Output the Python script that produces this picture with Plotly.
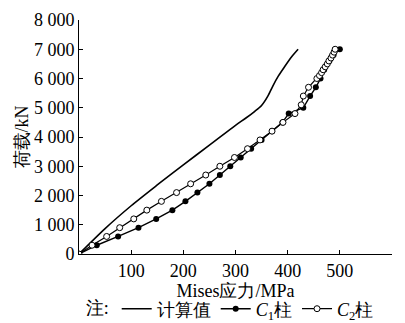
import plotly.graph_objects as go

# Calculated values (计算值)
calc_x = [0, 50, 100, 150, 200, 250, 300, 320, 337, 350, 362, 372, 382, 394, 408, 420]
calc_y = [0, 870, 1650, 2360, 3050, 3720, 4400, 4650, 4880, 5080, 5400, 5760, 6080, 6400, 6750, 7000]

# C1 column (filled markers)
c1_x = [0, 34, 75, 114, 148, 179, 204, 227, 250, 270, 290, 310, 330, 350, 370, 390, 402, 430, 443, 454, 463, 470, 480, 488, 500]
c1_y = [0, 300, 600, 900, 1200, 1500, 1800, 2100, 2400, 2700, 3000, 3300, 3600, 3900, 4200, 4500, 4800, 5000, 5400, 5700, 6000, 6300, 6600, 6800, 7000]

# C2 column (hollow markers)
c2_x = [0, 25, 53, 78, 105, 130, 158, 187, 214, 243, 270, 298, 323, 347, 370, 391, 414, 426, 430, 440, 456, 461, 465, 468, 472, 476, 479, 483, 486, 489, 491]
c2_y = [0, 300, 600, 900, 1200, 1500, 1800, 2100, 2400, 2700, 3000, 3300, 3600, 3900, 4200, 4500, 4800, 5100, 5400, 5700, 6000, 6100, 6200, 6300, 6400, 6500, 6600, 6700, 6800, 6900, 7000]

x_ticks = [100, 200, 300, 400, 500, 600]
y_ticks = [0, 1000, 2000, 3000, 4000, 5000, 6000, 7000, 8000]
y_tick_text = ["0", "1 000", "2 000", "3 000", "4 000", "5 000", "6 000", "7 000", "8 000"]

FONT = "Liberation Serif"

fig = go.Figure()
fig.add_trace(go.Scatter(x=calc_x, y=calc_y, mode="lines", name="计算值",
                         line=dict(color="black", width=1.6, shape="spline", smoothing=0.8)))
fig.add_trace(go.Scatter(x=c1_x, y=c1_y, mode="lines+markers", name="<i>C</i><sub>1</sub>柱",
                         line=dict(color="black", width=1.4),
                         marker=dict(symbol="circle", size=6, color="black")))
fig.add_trace(go.Scatter(x=c2_x, y=c2_y, mode="lines+markers", name="<i>C</i><sub>2</sub>柱",
                         line=dict(color="black", width=1.2),
                         marker=dict(symbol="circle", size=6, color="white",
                                     line=dict(color="black", width=1))))

fig.update_layout(
    width=405, height=323,
    margin=dict(l=79, r=13, t=20, b=69, autoexpand=False),
    paper_bgcolor="white", plot_bgcolor="white",
    font=dict(family=FONT, size=18, color="black"),
    showlegend=True,
    legend=dict(orientation="h", x=0.015, xanchor="left", y=-0.235, yanchor="middle",
                title=dict(text="注:", side="left", font=dict(family=FONT, size=18)),
                font=dict(family=FONT, size=18),
                itemwidth=30, tracegroupgap=0,
                bgcolor="rgba(0,0,0,0)"),
    xaxis=dict(range=[0, 600], tickvals=x_ticks, showgrid=False, zeroline=False,
               showline=True, linecolor="black", linewidth=1,
               ticks="inside", ticklen=4, tickcolor="black",
               tickfont=dict(family=FONT, size=18),
               title=dict(text="Mises应力/MPa", standoff=0, font=dict(family=FONT, size=18))),
    yaxis=dict(range=[0, 8000], tickvals=y_ticks, ticktext=y_tick_text,
               showgrid=False, zeroline=False,
               showline=True, linecolor="black", linewidth=1,
               ticks="inside", ticklen=4, tickcolor="black",
               tickfont=dict(family=FONT, size=18),
               title=dict(text="荷载/kN", standoff=0, font=dict(family=FONT, size=18))),
)

fig.write_html("out.html",
               config={"displayModeBar": False},
               post_script="document.body.style.margin='0';document.body.style.overflow='hidden';")
